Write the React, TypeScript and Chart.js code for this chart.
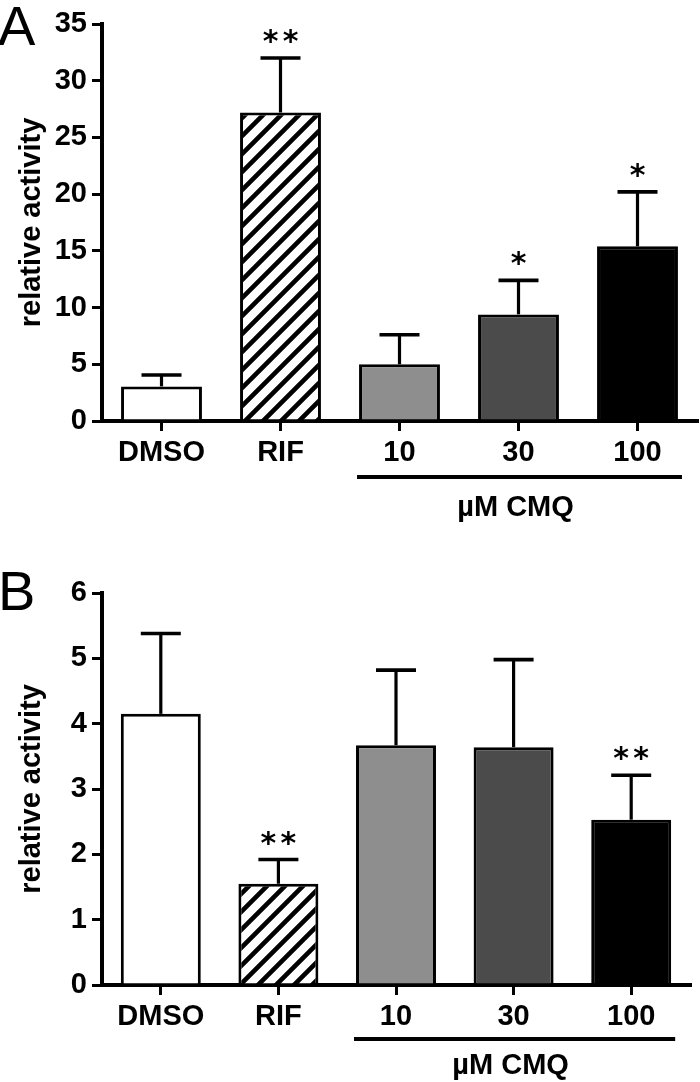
import React, { useEffect, useRef } from 'react';
import { Chart, registerables } from 'chart.js';

Chart.register(...registerables);

// ---------- data ----------
const categories = ['DMSO', 'RIF', '10', '30', '100'];
const groupLabel = 'µM CMQ';
const yTitle = 'relative activity';

const meansA = [3.05, 27.2, 5.0, 9.4, 15.4];
const errTopA = [4.05, 32.0, 7.6, 12.4, 20.2];
const starsA = ['', '**', '', '*', '*'];
const yMaxA = 35;
const yStepA = 5;

const meansB = [4.15, 1.55, 3.67, 3.64, 2.53];
const errTopB = [5.38, 1.92, 4.82, 4.98, 3.21];
const starsB = ['', '**', '', '', '**'];
const yMaxB = 6;
const yStepB = 1;

const barFills = ['#ffffff', 'hatch', '#8e8e8e', '#4b4b4b', '#000000'];

const FONT = '"Liberation Sans", Arial, Helvetica, sans-serif';

function makeHatch(): CanvasPattern | string {
  const c = document.createElement('canvas');
  c.width = 18;
  c.height = 18;
  const g = c.getContext('2d');
  if (!g) return '#fff';
  g.fillStyle = '#ffffff';
  g.fillRect(0, 0, 18, 18);
  g.strokeStyle = '#000000';
  g.lineWidth = 4.6;
  g.beginPath();
  g.moveTo(-5, 5); g.lineTo(5, -5);
  g.moveTo(-3, 21); g.lineTo(21, -3);
  g.moveTo(13, 23); g.lineTo(23, 13);
  g.stroke();
  const p = g.createPattern(c, 'repeat');
  return p || '#fff';
}

interface PanelOpts {
  letter: string;
  letterY: number;
  means: number[];
  errTop: number[];
  stars: string[];
  yMax: number;
  yStep: number;
  padTop: number;
  padRight: number;
  xHeight: number;
  bracketDy: number;
  groupDy: number;
}

function buildChart(canvas: HTMLCanvasElement, o: PanelOpts) {
  const hatch = makeHatch();
  const fills = barFills.map((f) => (f === 'hatch' ? hatch : f));

  const annot = {
    id: 'annot' + o.letter,
    afterDatasetsDraw(chart: any) {
      const ctx = chart.ctx;
      const y = chart.scales.y;
      const meta = chart.getDatasetMeta(0);
      ctx.save();
      ctx.strokeStyle = '#000';
      ctx.fillStyle = '#000';
      meta.data.forEach((bar: any, i: number) => {
        const x = bar.x;
        const yTop = y.getPixelForValue(o.means[i]);
        const yCap = y.getPixelForValue(o.errTop[i]);
        ctx.lineWidth = 3.2;
        ctx.beginPath();
        ctx.moveTo(x, yTop);
        ctx.lineTo(x, yCap);
        ctx.stroke();
        ctx.lineWidth = 3.6;
        ctx.beginPath();
        ctx.moveTo(x - 20, yCap);
        ctx.lineTo(x + 20, yCap);
        ctx.stroke();
        const s = o.stars[i];
        if (s) {
          ctx.font = 'bold 30px "DejaVu Sans", sans-serif';
          ctx.textAlign = 'center';
          ctx.textBaseline = 'alphabetic';
          const base = yCap - 25 + 18;
          if (s.length === 2) {
            ctx.fillText('*', x - 10, base);
            ctx.fillText('*', x + 10, base);
          } else {
            ctx.fillText('*', x, base);
          }
        }
      });
      ctx.restore();
    },
    afterDraw(chart: any) {
      const ctx = chart.ctx;
      const meta = chart.getDatasetMeta(0);
      const b0 = meta.data[2];
      const b1 = meta.data[4];
      const x0 = b0.x - b0.width / 2 - 2;
      const x1 = b1.x + b1.width / 2 + 4;
      const yb = chart.chartArea.bottom + o.bracketDy;
      ctx.save();
      ctx.strokeStyle = '#000';
      ctx.lineWidth = 4;
      ctx.beginPath();
      ctx.moveTo(x0, yb);
      ctx.lineTo(x1, yb);
      ctx.stroke();
      ctx.fillStyle = '#000';
      ctx.font = 'bold 29px ' + FONT;
      ctx.textAlign = 'center';
      ctx.textBaseline = 'middle';
      ctx.fillText(groupLabel, (x0 + x1) / 2 - 4, chart.chartArea.bottom + o.groupDy);
      ctx.font = '56px ' + FONT;
      ctx.textAlign = 'left';
      ctx.textBaseline = 'alphabetic';
      ctx.fillText(o.letter, -2, o.letterY);
      ctx.restore();
    },
  };

  return new Chart(canvas, {
    type: 'bar',
    data: {
      labels: categories,
      datasets: [
        {
          data: o.means,
          backgroundColor: fills as any,
          borderColor: '#000',
          borderWidth: 3,
          barPercentage: 0.68,
          categoryPercentage: 1,
        },
      ],
    },
    options: {
      responsive: false,
      animation: false,
      devicePixelRatio: 1,
      layout: { padding: { top: o.padTop, right: o.padRight, left: 0, bottom: 0 } },
      plugins: { legend: { display: false }, tooltip: { enabled: false } },
      scales: {
        x: {
          offset: true,
          afterFit: (s: any) => { s.height = o.xHeight; },
          grid: {
            offset: false,
            drawOnChartArea: false,
            drawTicks: true,
            tickLength: 10,
            tickWidth: 3,
            tickColor: '#000',
            color: '#000',
            lineWidth: 3,
          },
          border: { display: true, color: '#000', width: 4 },
          ticks: {
            color: '#000',
            padding: 5,
            maxRotation: 0,
            font: { family: FONT, size: 29, weight: 'bold' },
          },
        },
        y: {
          min: 0,
          max: o.yMax,
          afterFit: (s: any) => { s.width = 102; },
          grid: {
            drawOnChartArea: false,
            drawTicks: true,
            tickLength: 10,
            tickWidth: 3,
            tickColor: '#000',
            color: '#000',
            lineWidth: 3,
          },
          border: { display: true, color: '#000', width: 4 },
          ticks: {
            stepSize: o.yStep,
            color: '#000',
            padding: 5,
            font: { family: FONT, size: 29, weight: 'bold' },
          },
          title: {
            display: true,
            text: yTitle,
            color: '#000',
            padding: { top: 15, bottom: 0 },
            font: { family: FONT, size: 29, weight: 'bold' },
          },
        },
      },
    },
    plugins: [annot],
  } as any);
}

export default function App() {
  const refA = useRef<HTMLCanvasElement>(null);
  const refB = useRef<HTMLCanvasElement>(null);

  useEffect(() => {
    const a = buildChart(refA.current!, {
      letter: 'A',
      letterY: 45,
      means: meansA,
      errTop: errTopA,
      stars: starsA,
      yMax: yMaxA,
      yStep: yStepA,
      padTop: 24,
      padRight: 3,
      xHeight: 120,
      bracketDy: 56,
      groupDy: 87,
    });
    const b = buildChart(refB.current!, {
      letter: 'B',
      letterY: 69,
      means: meansB,
      errTop: errTopB,
      stars: starsB,
      yMax: yMaxB,
      yStep: yStepB,
      padTop: 52,
      padRight: 10,
      xHeight: 97,
      bracketDy: 54,
      groupDy: 81,
    });
    return () => {
      a.destroy();
      b.destroy();
    };
  }, []);

  return (
    <div style={{ position: 'absolute', left: 0, top: 0, width: 700, height: 1082, background: '#fff' }}>
      <canvas ref={refA} width={700} height={541} style={{ display: 'block', width: 700, height: 541 }} />
      <canvas ref={refB} width={700} height={541} style={{ display: 'block', width: 700, height: 541 }} />
    </div>
  );
}
